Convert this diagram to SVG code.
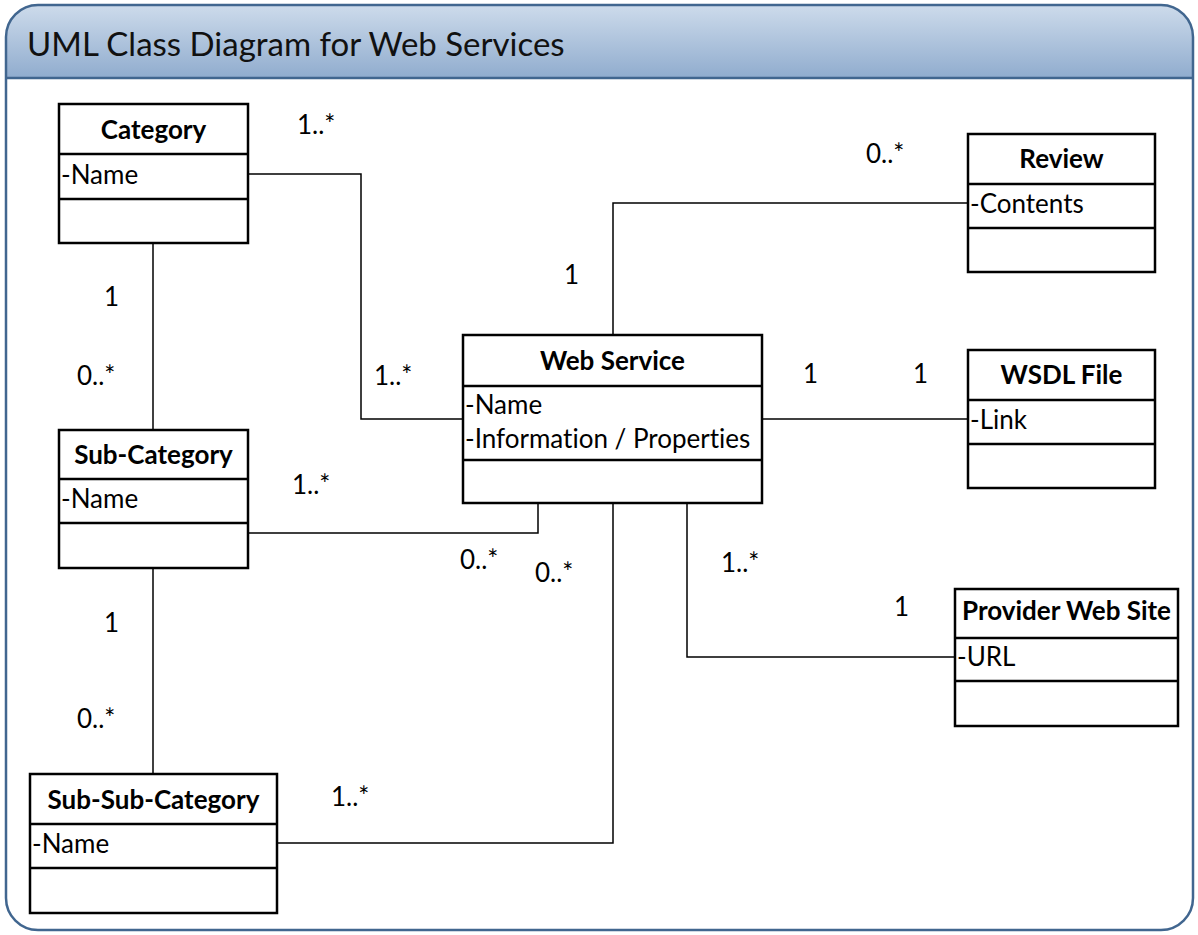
<svg xmlns="http://www.w3.org/2000/svg" width="1198" height="935" viewBox="0 0 1198 935">
  <defs>
    <linearGradient id="hdr" x1="0" y1="0" x2="0" y2="1">
      <stop offset="0" stop-color="#cddbeb"/>
      <stop offset="1" stop-color="#90acce"/>
    </linearGradient>
    <clipPath id="frameClip">
      <rect x="6" y="5" width="1187" height="925" rx="32" ry="32"/>
    </clipPath>
  </defs>
  <style>
    text { font-variant-ligatures: none; }
    .box { fill: #ffffff; stroke: #000000; stroke-width: 2.5; }
    .div { stroke: #000000; stroke-width: 2.5; }
    .conn { fill: none; stroke: #000000; stroke-width: 1.5; }
    .title { font-family: Lato, "Open Sans", sans-serif; font-weight: bold; font-size: 26px; text-anchor: middle; fill: #000; }
    .attr { font-family: Lato, "Open Sans", sans-serif; font-size: 26px; fill: #000; }
    .mult { font-family: Lato, "Open Sans", sans-serif; font-size: 26px; fill: #000; }
  </style>

  <!-- frame with header band -->
  <g id="frame">
    <rect x="6" y="5" width="1187" height="925" rx="32" ry="32" fill="#ffffff"/>
    <rect x="6" y="5" width="1187" height="73" fill="url(#hdr)" clip-path="url(#frameClip)"/>
    <line x1="6" y1="78" x2="1193" y2="78" stroke="#41668f" stroke-width="2.5"/>
    <rect x="6" y="5" width="1187" height="925" rx="32" ry="32" fill="none" stroke="#41668f" stroke-width="2.5"/>
    <text x="27" y="56" font-family="Lato, 'Open Sans', sans-serif" font-size="33" fill="#111">UML Class Diagram for Web Services</text>
  </g>

  <!-- associations -->
  <g id="connectors">
    <polyline class="conn" points="248,174 361,174 361,419 463,419"/>
    <line class="conn" x1="153" y1="243" x2="153" y2="430"/>
    <polyline class="conn" points="248,533 538,533 538,503"/>
    <line class="conn" x1="153" y1="568" x2="153" y2="774"/>
    <polyline class="conn" points="277,843 613,843 613,503"/>
    <polyline class="conn" points="613,335 613,203 968,203"/>
    <line class="conn" x1="762" y1="419" x2="968" y2="419"/>
    <polyline class="conn" points="687,503 687,657 955,657"/>
  </g>

  <!-- multiplicities -->
  <g id="multiplicities">
    <text class="mult" x="297" y="134">1..*</text>
    <text class="mult" x="104" y="306">1</text>
    <text class="mult" x="77" y="385">0..*</text>
    <text class="mult" x="374" y="385">1..*</text>
    <text class="mult" x="564" y="284">1</text>
    <text class="mult" x="866" y="163">0..*</text>
    <text class="mult" x="803" y="383">1</text>
    <text class="mult" x="913" y="383">1</text>
    <text class="mult" x="292" y="494">1..*</text>
    <text class="mult" x="460" y="569">0..*</text>
    <text class="mult" x="535" y="582">0..*</text>
    <text class="mult" x="721" y="572">1..*</text>
    <text class="mult" x="894" y="616">1</text>
    <text class="mult" x="104" y="632">1</text>
    <text class="mult" x="77" y="728">0..*</text>
    <text class="mult" x="331" y="806">1..*</text>
  </g>

  <g id="category">
    <rect class="box" x="59" y="104" width="189" height="139"/>
    <line class="div" x1="59" y1="154" x2="248" y2="154"/>
    <line class="div" x1="59" y1="199" x2="248" y2="199"/>
    <text class="title" x="153.5" y="139">Category</text>
    <text class="attr" x="61" y="184">-Name</text>
  </g>

  <g id="sub-category">
    <rect class="box" x="59" y="430" width="189" height="138"/>
    <line class="div" x1="59" y1="479" x2="248" y2="479"/>
    <line class="div" x1="59" y1="523" x2="248" y2="523"/>
    <text class="title" x="153.5" y="464">Sub-Category</text>
    <text class="attr" x="61" y="508">-Name</text>
  </g>

  <g id="sub-sub-category">
    <rect class="box" x="30" y="774" width="247" height="139"/>
    <line class="div" x1="30" y1="824" x2="277" y2="824"/>
    <line class="div" x1="30" y1="868" x2="277" y2="868"/>
    <text class="title" x="153.5" y="809">Sub-Sub-Category</text>
    <text class="attr" x="32" y="853">-Name</text>
  </g>

  <g id="web-service">
    <rect class="box" x="463" y="335" width="299" height="168"/>
    <line class="div" x1="463" y1="386" x2="762" y2="386"/>
    <line class="div" x1="463" y1="460" x2="762" y2="460"/>
    <text class="title" x="612.5" y="370">Web Service</text>
    <text class="attr" x="465" y="414">-Name</text>
    <text class="attr" x="465" y="448">-Information / Properties</text>
  </g>

  <g id="review">
    <rect class="box" x="968" y="134" width="187" height="138"/>
    <line class="div" x1="968" y1="184" x2="1155" y2="184"/>
    <line class="div" x1="968" y1="228" x2="1155" y2="228"/>
    <text class="title" x="1061.5" y="168">Review</text>
    <text class="attr" x="970" y="213">-Contents</text>
  </g>

  <g id="wsdl-file">
    <rect class="box" x="968" y="350" width="187" height="138"/>
    <line class="div" x1="968" y1="400" x2="1155" y2="400"/>
    <line class="div" x1="968" y1="444" x2="1155" y2="444"/>
    <text class="title" x="1061.5" y="384">WSDL File</text>
    <text class="attr" x="970" y="429">-Link</text>
  </g>

  <g id="provider-web-site">
    <rect class="box" x="955" y="589" width="223" height="137"/>
    <line class="div" x1="955" y1="638" x2="1178" y2="638"/>
    <line class="div" x1="955" y1="681" x2="1178" y2="681"/>
    <text class="title" x="1066.5" y="620">Provider Web Site</text>
    <text class="attr" x="957" y="666">-URL</text>
  </g>
</svg>
